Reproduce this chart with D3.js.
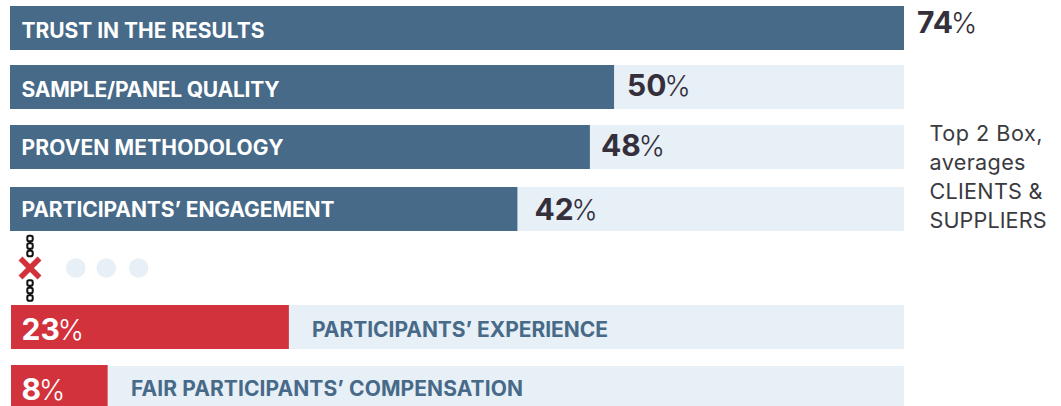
<!DOCTYPE html>
<html><head><meta charset="utf-8">
<script src="https://cdn.jsdelivr.net/npm/d3@7"></script>
<style>html,body{margin:0;padding:0;background:#fff}svg{display:block}text{font-family:Inter,"Open Sans",sans-serif}</style>
</head><body><div id="c"></div>
<script>
const categories=["TRUST IN THE RESULTS","SAMPLE/PANEL QUALITY","PROVEN METHODOLOGY","PARTICIPANTS’ ENGAGEMENT","PARTICIPANTS’ EXPERIENCE","FAIR PARTICIPANTS’ COMPENSATION"];
const values=[74,50,48,42,23,8];
const noteLines=["Top 2 Box,","averages","CLIENTS &","SUPPLIERS"];
const separatorDots=[0,1,2];
const W=1061,H=406;
const blue="#476a88",red="#d2323c",light="#e7eff7",dark="#352f3c";
const x=d3.scaleLinear().domain([0,74]).range([10,904]);
const y=d3.scaleOrdinal().domain(categories).range([6,65,125,187,305,365]);
const valueOffset=d3.scaleOrdinal().domain(categories).range([13,13,11,17,0,0]);
const valueBase=d3.scaleOrdinal().domain(categories).range([27,31,31,33,35,35]);
const labelBase=d3.scaleOrdinal().domain(categories).range([31.5,32,30,30,32,31]);
const labelWidth=d3.scaleOrdinal().domain(categories).range([243,258,262,313,296,392]);
const noteWidth=d3.scaleOrdinal().domain(noteLines).range([113,96,113,117]);
const bh=d=>d===categories[5]?41:44;
const svg=d3.select("#c").append("svg").attr("width",W).attr("height",H);
const rows=svg.selectAll("g.row").data(categories.map((c,i)=>({c,v:values[i],top:values[i]<30})))
 .join("g").attr("class","row").attr("transform",d=>`translate(0,${y(d.c)})`);
rows.append("rect").attr("x",d=>d.top?x(0)+1:x(0)).attr("y",d=>d.v===8?1:0).attr("width",d=>x(74)-x(0)-(d.top?1:0)).attr("height",d=>bh(d.c)-(d.v===8?1:0)).attr("fill",light);
rows.append("rect").attr("x",d=>d.top?x(0)+1:x(0)).attr("width",d=>x(d.v)-x(0)).attr("height",d=>bh(d.c)).attr("fill",d=>d.top?red:blue);
// category labels
rows.append("text").attr("x",d=>d.top?(d.v===8?131:312):21.5).attr("y",d=>labelBase(d.c))
 .attr("font-size",21).attr("font-weight",700).attr("fill",d=>d.top?blue:"#fff")
 .attr("textLength",d=>labelWidth(d.c)).attr("lengthAdjust","spacing").text(d=>d.c);
// value labels
const vl=rows.append("text").attr("x",d=>d.top?21.5:x(d.v)+valueOffset(d.c)).attr("y",d=>valueBase(d.c))
 .attr("font-size",30).attr("font-weight",700).attr("fill",d=>d.top?"#fff":dark);
vl.append("tspan").text(d=>d.v);
vl.append("tspan").attr("dx",-2).attr("font-size",28).attr("font-weight",300).text("%");
// note
svg.append("g").selectAll("text").data(noteLines).join("text")
 .attr("x",929.5).attr("y",(d,i)=>141+i*29).attr("font-size",21.6).attr("fill","#3a3a3f")
 .attr("textLength",d=>noteWidth(d)).attr("lengthAdjust","spacing").text(d=>d);
// separator
svg.append("g").selectAll("circle").data(separatorDots).join("circle")
 .attr("cx",d=>[75.7,106.3,138.7][d]).attr("cy",268).attr("r",9.8).attr("fill",light);
const ch=svg.append("g").attr("fill","none").attr("stroke","#111").attr("stroke-width",2);
[[236,256],[281,301]].forEach(s=>ch.append("line").attr("x1",30).attr("x2",30).attr("y1",s[0]+2).attr("y2",s[1]-2));
[238.5,246,253.5,283,290.5,298].forEach(cy=>ch.append("rect").attr("x",27.3).attr("y",cy-2.7).attr("width",5.4).attr("height",5.4).attr("rx",1.8).attr("fill","#fff"));
const xg=svg.append("g").attr("stroke",red).attr("stroke-width",5.5);
xg.append("line").attr("x1",20.5).attr("y1",258.5).attr("x2",39.5).attr("y2",277.5);
xg.append("line").attr("x1",39.5).attr("y1",258.5).attr("x2",20.5).attr("y2",277.5);
</script></body></html>
